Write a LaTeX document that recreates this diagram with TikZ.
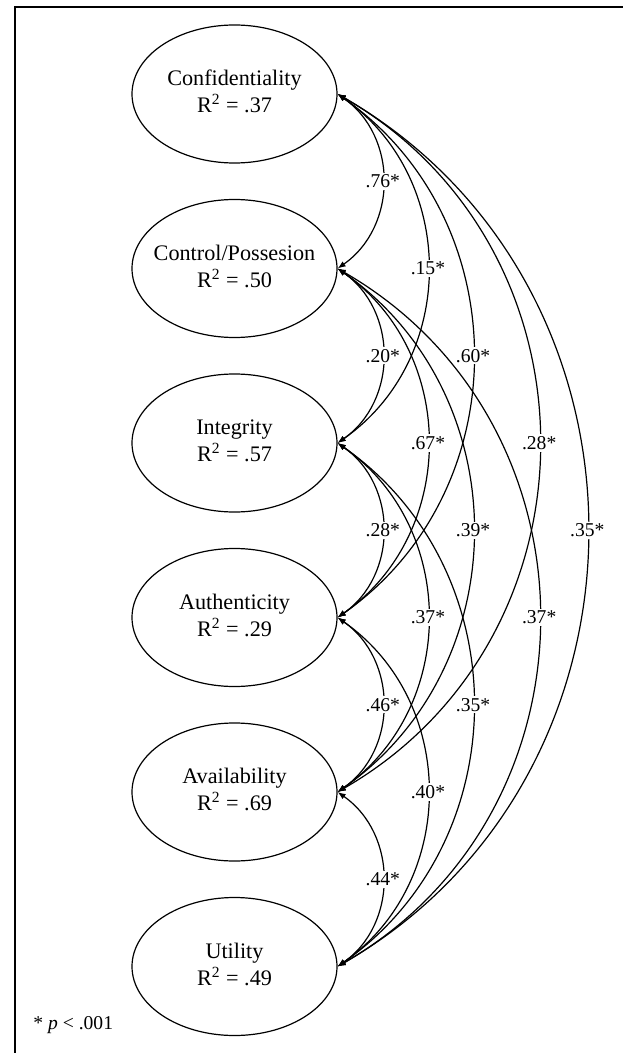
\documentclass[tikz,border=0pt]{standalone}
\usepackage{fontspec}
\setmainfont{Liberation Serif}
\usetikzlibrary{arrows.meta,shapes.geometric}

\begin{document}
\begin{tikzpicture}[x=0.5pt,y=-0.5pt,
  latent/.style={draw,ellipse,line width=0.6pt,minimum width=102.5pt,minimum height=69pt,inner sep=0pt,font=\fontsize{11.1}{13.5}\selectfont},
  cov/.style={{Latex[length=4pt,width=3pt]}-{Latex[length=4pt,width=3pt]},line width=0.6pt},
  est/.style={fill=white,inner sep=1pt,font=\fontsize{9.8}{11}\selectfont}]
\useasboundingbox (0,0) rectangle (624,1053);
% frame
\draw[line width=1pt] (15,1053) -- (15,7.5) -- (623,7.5);
% latent factors, one per row
\foreach \n/\txt/\rsq [count=\i from 0] in {conf/Confidentiality/.37,ctrl/{Control/Possesion}/.50,int/Integrity/.57,auth/Authenticity/.29,avail/Availability/.69,util/Utility/.49}{
  \node[latent] (\n) at (234.5,94+174.5*\i) {\makebox[0pt]{\begin{tabular}{@{}c@{}}\txt\\R\textsuperscript{2} = \rsq\end{tabular}}};
}
% correlations: neighbours first, then wider arcs
\foreach \a/\b/\r/\ang/\lo in {
  conf/ctrl/.76*/55/1.08,ctrl/int/.20*/55/1.08,int/auth/.28*/55/1.08,auth/avail/.46*/55/1.08,avail/util/.44*/55/1.08,
  conf/int/.15*/55/1.08,ctrl/auth/.67*/55/1.08,int/avail/.37*/55/1.08,auth/util/.40*/55/1.08,
  conf/auth/.60*/55/1.08,ctrl/avail/.39*/55/1.08,int/util/.35*/55/1.08,
  conf/avail/.28*/60/1.14,ctrl/util/.37*/60/1.14,
  conf/util/.35*/60/1.13}{
  \draw[cov] (\a.east) to[bend left=\ang,looseness=\lo] node[est]{\r} (\b.east);
}
\node[anchor=west,inner sep=0pt,font=\fontsize{9.8}{11}\selectfont] (note) at (33,1025) {* \textit{p} < .001};
\end{tikzpicture}
\end{document}
